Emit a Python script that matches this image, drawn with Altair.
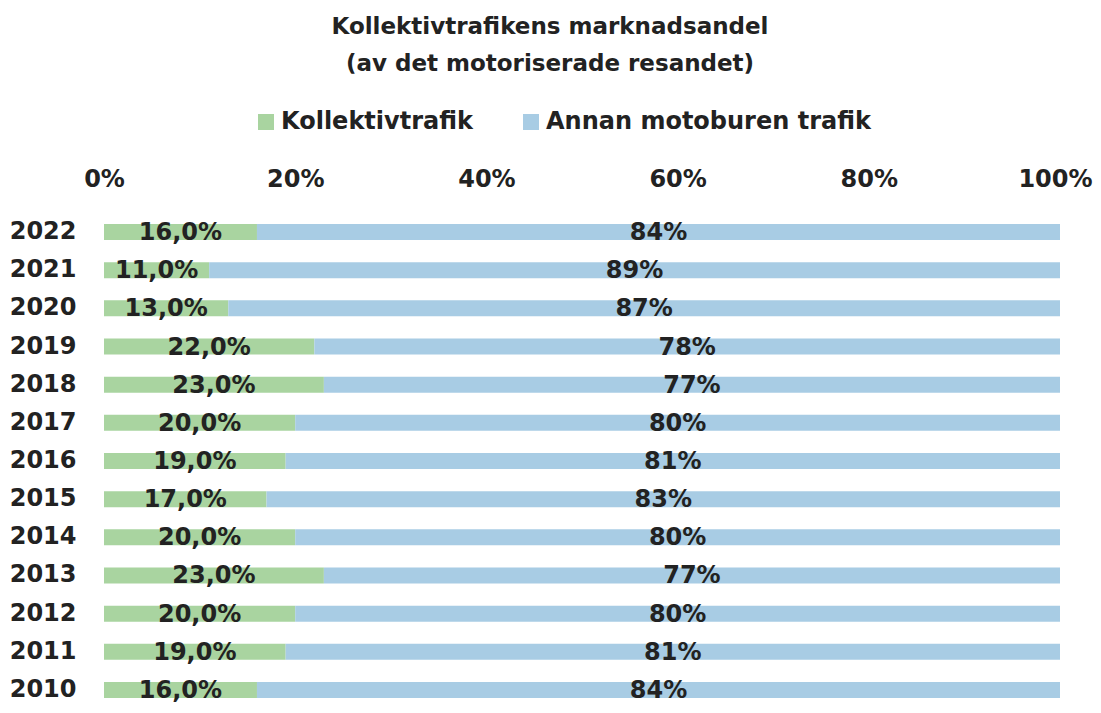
import altair as alt
import pandas as pd

years = ["2022", "2021", "2020", "2019", "2018", "2017", "2016",
         "2015", "2014", "2013", "2012", "2011", "2010"]
kollektiv = [16, 11, 13, 22, 23, 20, 19, 17, 20, 23, 20, 19, 16]
annan = [84, 89, 87, 78, 77, 80, 81, 83, 80, 77, 80, 81, 84]
series = ["Kollektivtrafik", "Annan motoburen trafik"]
colors = ["#a9d4a0", "#a8cce4"]
ticks = [0, 20, 40, 60, 80, 100]

rows = []
for y, k, a in zip(years, kollektiv, annan):
    rows.append({"year": y, "serie": series[0], "value": k, "ord": 0})
    rows.append({"year": y, "serie": series[1], "value": a, "ord": 1})
df = pd.DataFrame(rows)

FONT = "DejaVu Sans"
TXT = "#222222"

base = alt.Chart(df).transform_stack(
    stack="value", groupby=["year"], as_=["v0", "v1"],
    sort=[alt.SortField("ord", order="ascending")]
).transform_calculate(
    mid="(datum.v0 + datum.v1) / 2",
    label="datum.ord == 0 ? replace(format(datum.value, '.1f'), '.', ',') + '%' : format(datum.value, 'd') + '%'"
)

yenc = alt.Y("year:N", sort=years, title=None,
             scale=alt.Scale(paddingInner=0.58, paddingOuter=0),
             axis=alt.Axis(labelFont=FONT, labelFontSize=24, labelFontWeight="bold",
                           labelColor=TXT, labelPadding=28, ticks=False, tickSize=0,
                           domain=False))

bars = base.mark_bar().encode(
    x=alt.X("v0:Q", scale=alt.Scale(domain=[0, 100], nice=False), title=None,
            axis=alt.Axis(orient="top", values=ticks, labelExpr="datum.value + '%'",
                          labelFont=FONT, labelFontSize=24, labelFontWeight="bold",
                          labelColor=TXT, labelPadding=45, labelBaseline="middle",
                          labelOffset={"condition": {"test": "datum.value == 100", "value": -5}, "value": 0},
                          ticks=False, tickSize=0, domain=False, grid=False,
                          labelFlush=False)),
    x2="v1:Q",
    y=yenc,
    color=alt.Color("serie:N", scale=alt.Scale(domain=series, range=colors),
                    legend=alt.Legend(orient="none", legendX=150, legendY=-114,
                                      direction="horizontal", title=None,
                                      symbolType="square", symbolSize=256,
                                      symbolStrokeWidth=0, symbolOpacity=1,
                                      labelFont=FONT, labelFontSize=24,
                                      labelFontWeight="bold", labelColor=TXT,
                                      labelOffset=3, columnPadding=46,
                                      labelLimit=600, padding=0)),
    order=alt.Order("ord:Q"),
)

text = base.mark_text(font=FONT, fontSize=24, fontWeight="bold", color=TXT,
                      baseline="middle", align="center", dy=1).encode(
    x=alt.X("mid:Q"),
    y=alt.Y("year:N", sort=years),
    text="label:N",
)

chart = alt.layer(bars, text).properties(
    width=956, height=474,
    autosize=alt.AutoSizeParams(type="none"),
    padding={"left": 96, "top": 216, "right": 33, "bottom": 7},
    title=alt.Title(["Kollektivtrafikens marknadsandel", "(av det motoriserade resandet)"],
                    font=FONT, fontSize=23, fontWeight="bold", color=TXT,
                    anchor="middle", frame="group", dx=-32, lineHeight=37, offset=34),
).configure_view(stroke=None).configure_axis(grid=False)

chart.save("out.html", embed_options={"renderer": "svg", "actions": False})
